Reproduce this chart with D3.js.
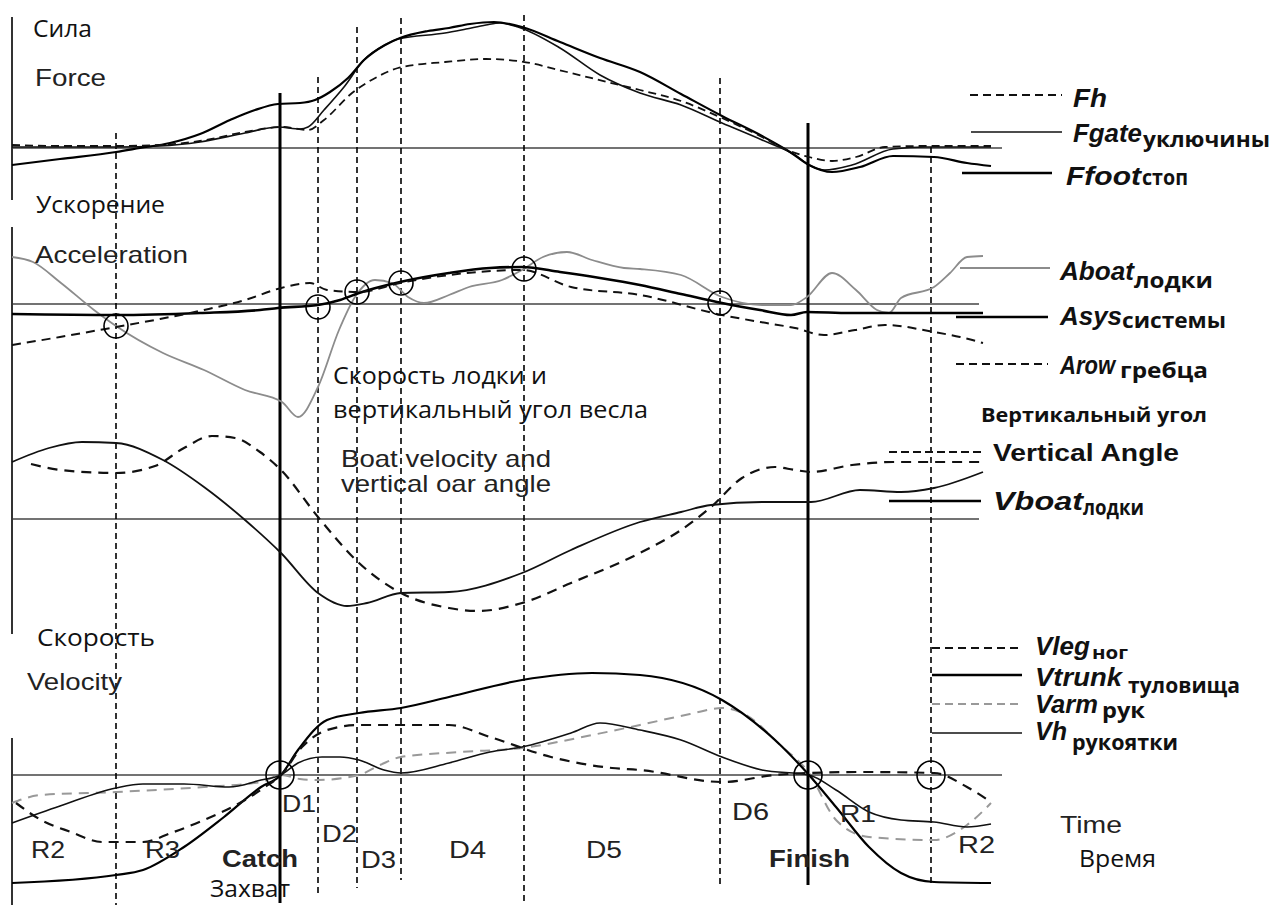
<!DOCTYPE html>
<html>
<head>
<meta charset="utf-8">
<script src="https://cdn.jsdelivr.net/npm/d3@7"></script>
<style>
  html, body { margin: 0; padding: 0; background: #fff; }
  svg { display: block; }
</style>
</head>
<body>
<div id="chart"></div>
<script>
// Time in % of the window, values in arbitrary units (0 = panel baseline)

// Force panel
const fh = [[0,0.3],[4.8,0.2],[10.4,0.2],[14.8,0.3],[18.8,0.7],[23.3,1.6],[27.1,2.1],[29.6,1.8],[31.2,2.8],[34.0,5.5],[36.5,7.1],[38.6,8.0],[43.3,8.6],[47.4,8.9],[50.6,8.7],[55.5,7.6],[59.5,6.6],[62.8,5.8],[66.9,4.7],[71.0,3.0],[75.0,1.1],[77.5,-0.2],[79.7,-0.9],[82.0,-1.3],[84.4,-0.9],[87.3,0.1],[90.8,0.2],[97.9,0.2]];
const fgate = [[0,0.1],[10.4,0.1],[14.8,0.2],[18.8,0.6],[23.3,1.5],[26.6,2.1],[28.8,1.9],[29.6,2.1],[31.2,3.8],[33.2,6.1],[35.2,8.8],[37.3,10.3],[38.6,10.9],[43.3,11.5],[45.4,11.9],[47.4,12.3],[48.8,12.5],[50.6,12.1],[54.8,10.0],[58.8,7.3],[62.8,5.5],[66.9,4.3],[71.0,2.5],[75.0,0.8],[78.3,-0.7],[79.7,-1.7],[81.2,-2.2],[84.0,-1.7],[88.1,-0.1],[91.4,0.1],[97.9,0.1]];
const ffoot = [[0,-1.7],[4.8,-1.1],[10.4,-0.4],[12.8,0],[15.8,0.5],[18.8,1.4],[21.8,2.8],[24.3,3.8],[26.6,4.4],[28.8,4.5],[30.3,4.8],[31.8,5.6],[33.6,7.0],[35.2,8.8],[37.3,10.3],[38.8,11.0],[41.6,11.7],[43.7,12.0],[45.8,12.4],[48.2,12.6],[51.0,12.1],[54.8,10.6],[58.8,9.0],[62.8,7.6],[66.9,5.4],[71.0,3.2],[75.0,1.2],[77.8,-0.4],[79.7,-1.7],[82.0,-2.4],[84.8,-1.9],[88.1,-0.8],[92.2,-0.9],[95.5,-1.5],[97.9,-1.8]];

// Acceleration panel
const aboat = [[0,4.7],[2.1,4.2],[4.9,2.1],[8.2,-0.6],[10.4,-2.2],[15.1,-4.9],[19.2,-6.6],[23.3,-8.6],[27.0,-9.8],[28.6,-11.3],[30.6,-8.3],[32.7,-2.6],[34.3,0.7],[36.3,2.4],[38.0,2.1],[39.6,0.7],[41.2,0.1],[43.7,0.9],[45.7,1.7],[49.0,2.4],[51.0,3.4],[53.1,4.7],[55.5,5.2],[58.0,4.4],[61.2,3.6],[62.8,3.5],[66.9,2.9],[71.0,0.7],[75.0,-0.1],[77.9,-0.1],[79.5,0.7],[82.0,3.1],[84.4,1.4],[86.5,-0.6],[87.7,-0.9],[88.9,0.6],[92.2,1.7],[93.8,3.1],[95.5,4.7],[97.1,4.8]];
const asys = [[0,-1.0],[10.4,-1.1],[18.8,-0.9],[24.8,-0.6],[26.6,-0.4],[30.6,-0.1],[32.8,0.4],[34.7,1.1],[38.8,2.2],[43.7,3.1],[47.8,3.6],[51.0,3.7],[54.8,3.2],[58.8,2.6],[62.8,1.9],[66.9,1.0],[71.0,0.1],[74.8,-0.6],[77.9,-1.1],[79.5,-0.8],[83.8,-0.9],[97.1,-0.9]];
const arow = [[0,-4.1],[4.8,-3.3],[10.4,-2.3],[14.8,-1.5],[19.2,-0.6],[23.3,0.4],[26.9,1.6],[28.8,2.0],[29.8,2.1],[31.5,1.4],[34.7,1.2],[38.8,2.1],[43.7,2.9],[51.0,3.4],[55.9,1.7],[62.8,0.9],[71.0,-1.1],[74.8,-1.8],[78.3,-2.4],[81.2,-3.1],[84.3,-2.6],[87.3,-2.1],[92.2,-2.8],[94.8,-3.3],[97.1,-3.9]];
const accelMarks = [[10.4,-2.2],[30.6,-0.3],[34.5,1.2],[38.9,2.1],[51.2,3.5],[70.8,0.1]];

// Boat velocity and vertical oar angle
const vboat = [[0,5.7],[3.7,7.1],[7.0,7.7],[10.4,7.6],[15.1,5.9],[19.2,3.2],[23.3,-0.1],[26.9,-3.4],[30.6,-7.4],[33.5,-8.7],[35.5,-8.4],[38.9,-7.4],[43.7,-7.3],[51.0,-5.4],[55.9,-3.1],[62.8,-0.3],[66.9,0.7],[69.9,1.4],[75.0,1.7],[79.9,1.7],[84.8,2.9],[88.9,2.7],[92.2,3.1],[97.1,4.7]];
const vertAngle = [[1.9,5.5],[4.9,4.9],[10.4,4.6],[14.3,5.3],[17.2,7.1],[20.0,8.3],[22.3,8.1],[24.8,6.7],[26.9,4.9],[30.6,0.2],[34.7,-4.4],[38.9,-7.4],[43.7,-8.9],[46.6,-9.2],[51.0,-8.4],[55.9,-6.4],[62.8,-3.4],[66.9,-1.1],[69.9,1.2],[73.0,4.1],[76.3,5.2],[78.3,4.9],[79.9,4.7],[84.0,5.4],[88.1,5.7],[97.1,5.7]];

// Segment velocities
const vtrunk = [[0,-10.8],[10.4,-10.0],[13.1,-9.5],[17.2,-7.2],[21.2,-4.2],[24.9,-1.2],[26.9,0],[28.6,2.5],[31.5,5.5],[34.7,6.2],[38.9,6.7],[43.7,7.8],[51.0,9.5],[58.0,10.2],[62.8,10.0],[71.0,7.5],[76.3,3.5],[79.7,0],[82.4,-3.2],[85.7,-7.2],[88.9,-9.8],[92.2,-10.7],[97.9,-10.8]];
const vh = [[0,-4.8],[4.8,-3.1],[10.4,-1.3],[13.1,-0.9],[17.2,-0.9],[21.7,-1.2],[24.9,-0.5],[26.9,0],[28.6,1.2],[31.0,1.8],[32.8,1.8],[34.7,1.5],[37.2,0.5],[38.9,0.2],[43.7,1.2],[47.8,2.3],[51.0,2.8],[55.9,4.2],[58.8,5.2],[62.8,4.5],[66.9,3.5],[71.0,1.8],[75.0,0.5],[79.7,0],[82.4,-1.5],[85.7,-3.7],[88.9,-4.5],[92.2,-4.7],[95.5,-5.2],[97.9,-4.9]];
const vleg = [[0.4,-2.8],[2.9,-4.5],[5.9,-5.7],[9.0,-6.7],[10.4,-6.7],[13.1,-6.7],[15.9,-5.8],[19.2,-4.5],[23.3,-2.5],[25.3,-1.2],[26.9,0],[29.0,2.8],[31.5,4.5],[34.7,5.0],[43.7,5.0],[47.8,3.8],[53.9,1.8],[60.0,0.7],[62.8,0.5],[71.0,-0.7],[76.3,0],[79.7,0.2],[85.2,0.3],[92.2,0.2],[95.5,-1.2],[97.9,-2.7]];
const varm = [[0,-2.8],[2.9,-2.0],[10.4,-1.7],[19.2,-1.2],[24.9,-0.7],[26.9,0],[28.8,-0.4],[30.6,-0.5],[34.7,0],[36.8,1.0],[38.9,1.8],[44.8,2.3],[51.0,2.7],[58.0,4.0],[62.8,5.0],[67.8,6.1],[71.0,6.7],[73.4,6.0],[76.8,3.0],[79.7,0.2],[82.4,-4.5],[85.7,-6.2],[92.2,-6.5],[95.5,-5.0],[97.9,-2.8]];
const velMarks = [[26.8,0],[79.6,0],[91.9,0]];

// Phase boundaries: time, kind, top (force units), bottom (velocity units)
const phaseT = [10.4, 26.8, 30.6, 34.5, 38.9, 51.2, 70.8, 79.6, 91.9];
const phaseKind = ["dash","solid","dash","dash","dash","dash","dash","solid","dash"];
const phaseTop = [1.5, 5.5, 7.1, 12.1, 13.0, 13.3, 7.0, 2.5, 0.1];
const phaseBottom = [-13, -12.8, -11.8, -11.3, -10.5, -13, -11.2, -11, -10.8];

const width = 1274, height = 905;
const svg = d3.select("#chart").append("svg")
    .attr("width", width)
    .attr("height", height);

// Scales
const x = d3.scaleLinear().domain([0, 100]).range([12, 1012]);
const yF = d3.scaleLinear().domain([0, 10]).range([148, 48]);
const yA = d3.scaleLinear().domain([0, 10]).range([304, 204]);
const yB = d3.scaleLinear().domain([0, 10]).range([519, 419]);
const yV = d3.scaleLinear().domain([0, 10]).range([775, 675]);

const SANS = "'Liberation Sans', Arial, sans-serif";
const CYR = "'Open Sans', 'Noto Sans', sans-serif";

function line(yScale) {
    return d3.line().x(d => x(d[0])).y(d => yScale(d[1])).curve(d3.curveMonotoneX);
}

function curve(data, yScale, stroke, w, dash) {
    svg.append("path")
        .datum(data)
        .attr("d", line(yScale))
        .attr("fill", "none")
        .attr("stroke", stroke)
        .attr("stroke-width", w)
        .attr("stroke-dasharray", dash || null)
        .attr("stroke-linejoin", "round");
}

// Baselines
[[yF, 99], [yA, 96.7], [yB, 96.7], [yV, 99]].forEach(([s, end]) => {
    svg.append("line")
        .attr("x1", x(0)).attr("x2", x(end))
        .attr("y1", s(0)).attr("y2", s(0))
        .attr("stroke", "#444").attr("stroke-width", 1.5);
});

// Left axis pieces
[[yF(13.1), yF(-5.2)], [yA(7.7), yB(-11.5)], [yV(3.7), yV(-13)]].forEach(([a, b]) => {
    svg.append("line")
        .attr("x1", x(0)).attr("x2", x(0))
        .attr("y1", a).attr("y2", b)
        .attr("stroke", "#333").attr("stroke-width", 2);
});

// Phase lines
phaseT.forEach((t, i) => {
    const solid = phaseKind[i] === "solid";
    svg.append("line")
        .attr("x1", x(t)).attr("x2", x(t))
        .attr("y1", yF(phaseTop[i])).attr("y2", yV(phaseBottom[i]))
        .attr("stroke", "#000")
        .attr("stroke-width", solid ? 3 : 1.6)
        .attr("stroke-dasharray", solid ? null : "6,4");
});

// Force curves
curve(fgate, yF, "#111", 1.6);
curve(ffoot, yF, "#000", 2.2);
curve(fh, yF, "#111", 1.8, "8,5");

// Acceleration curves
curve(aboat, yA, "#8c8c8c", 1.8);
curve(asys, yA, "#000", 2.6);
curve(arow, yA, "#111", 2, "9,6");

// Boat velocity and angle
curve(vboat, yB, "#111", 1.8);
curve(vertAngle, yB, "#111", 2.2, "10,7");

// Velocities
curve(varm, yV, "#999", 2, "10,7");
curve(vh, yV, "#111", 1.6);
curve(vtrunk, yV, "#000", 2.2);
curve(vleg, yV, "#111", 2.2, "10,7");

// Circle markers
svg.selectAll(".amark").data(accelMarks).enter().append("circle")
    .attr("cx", d => x(d[0])).attr("cy", d => yA(d[1])).attr("r", 12)
    .attr("fill", "none").attr("stroke", "#000").attr("stroke-width", 1.6);
svg.selectAll(".vmark").data(velMarks).enter().append("circle")
    .attr("cx", d => x(d[0])).attr("cy", d => yV(d[1])).attr("r", 14)
    .attr("fill", "none").attr("stroke", "#000").attr("stroke-width", 1.6);

// Legend samples
function sample(x1, x2, y, stroke, w, dash) {
    svg.append("line")
        .attr("x1", x1).attr("x2", x2).attr("y1", y).attr("y2", y)
        .attr("stroke", stroke).attr("stroke-width", w)
        .attr("stroke-dasharray", dash || null);
}
sample(970, 1062, 95, "#111", 1.8, "8,5");
sample(971, 1062, 132, "#111", 1.6);
sample(962, 1052, 173, "#000", 2.6);
sample(960, 1050, 268, "#8c8c8c", 1.8);
sample(956, 1048, 317, "#000", 2.6);
sample(956, 1048, 364, "#111", 1.8, "8,5");
sample(889, 983, 452, "#111", 2, "8,4");
sample(889, 981, 501, "#000", 2.6);
sample(932, 1022, 648, "#111", 2, "8,5");
sample(932, 1022, 675, "#000", 2.6);
sample(932, 1022, 704, "#999", 2, "8,5");
sample(932, 1022, 733, "#111", 1.6);

// Text
function txt(px, py, s, o) {
    const t = svg.append("text")
        .attr("x", px).attr("y", py)
        .attr("font-family", o.f || SANS)
        .attr("font-size", o.size)
        .attr("font-weight", o.bold ? "bold" : "normal")
        .attr("font-style", o.italic ? "italic" : "normal")
        .attr("fill", o.fill || "#111")
        .text(s);
    if (o.w) t.attr("textLength", o.w).attr("lengthAdjust", "spacingAndGlyphs");
}

const reg = { size: 24, fill: "#222" };
txt(35, 86, "Force", { ...reg, w: 71 });
txt(35, 263, "Acceleration", { ...reg, w: 153 });
txt(341, 467, "Boat velocity and", { ...reg, w: 210 });
txt(341, 492, "vertical oar angle", { ...reg, w: 210 });
txt(27, 690, "Velocity", { ...reg, w: 95 });
txt(31, 858, "R2", { ...reg, w: 34 });
txt(145, 858, "R3", { ...reg, w: 35 });
txt(282, 812, "D1", { ...reg, w: 34 });
txt(322, 842, "D2", { ...reg, w: 35 });
txt(361, 868, "D3", { ...reg, w: 35 });
txt(449, 858, "D4", { ...reg, w: 37 });
txt(586, 858, "D5", { ...reg, w: 36 });
txt(732, 820, "D6", { ...reg, w: 37 });
txt(840, 822, "R1", { ...reg, w: 36 });
txt(958, 853, "R2", { ...reg, w: 37 });
txt(1060, 833, "Time", { ...reg, w: 62 });

txt(222, 867, "Catch", { size: 23, bold: true, fill: "#222", w: 76 });
txt(769, 867, "Finish", { size: 23, bold: true, fill: "#222", w: 81 });
txt(993, 461, "Vertical Angle", { size: 23, bold: true, fill: "#111", w: 186 });

const cyr = { f: CYR, size: 23, fill: "#111" };
txt(33, 37, "Сила", { ...cyr, w: 59 });
txt(36, 213, "Ускорение", { ...cyr, w: 129 });
txt(37, 646, "Скорость", { ...cyr, w: 118 });
txt(333, 384, "Скорость лодки и", { ...cyr, w: 214 });
txt(333, 418, "вертикальный угол весла", { ...cyr, w: 315 });
txt(210, 897, "Захват", { ...cyr, w: 80 });
txt(1079, 867, "Время", { ...cyr, w: 77 });
txt(981, 422, "Вертикальный угол", { f: CYR, size: 20, bold: true, fill: "#111", w: 226 });

const leg = { size: 25, bold: true, italic: true, fill: "#111" };
const sub = { f: CYR, size: 21, bold: true, fill: "#111" };
txt(1073, 107, "Fh", { ...leg, w: 34 });
txt(1073, 142, "Fgate", { ...leg, w: 69 });
txt(1143, 147, "уключины", { ...sub, w: 127 });
txt(1066, 185, "Ffoot", { ...leg, w: 75 });
txt(1142, 185, "стоп", { ...sub, w: 46 });
txt(1060, 280, "Aboat", { ...leg, w: 74 });
txt(1134, 288, "лодки", { ...sub, w: 79 });
txt(1060, 325, "Asys", { ...leg, w: 62 });
txt(1122, 328, "системы", { ...sub, w: 104 });
txt(1060, 374, "Arow", { ...leg, w: 55 });
txt(1120, 378, "гребца", { ...sub, w: 88 });
txt(993, 510, "Vboat", { ...leg, w: 90 });
txt(1083, 515, "лодки", { ...sub, w: 61 });
txt(1035, 655, "Vleg", { ...leg, w: 55 });
txt(1092, 659, "ног", { ...sub, size: 18, w: 36 });
txt(1035, 686, "Vtrunk", { ...leg, w: 87 });
txt(1128, 693, "туловища", { ...sub, w: 112 });
txt(1035, 713, "Varm", { ...leg, w: 63 });
txt(1102, 718, "рук", { ...sub, w: 43 });
txt(1035, 740, "Vh", { ...leg, w: 32 });
txt(1072, 750, "рукоятки", { ...sub, w: 106 });
</script>
</body>
</html>
